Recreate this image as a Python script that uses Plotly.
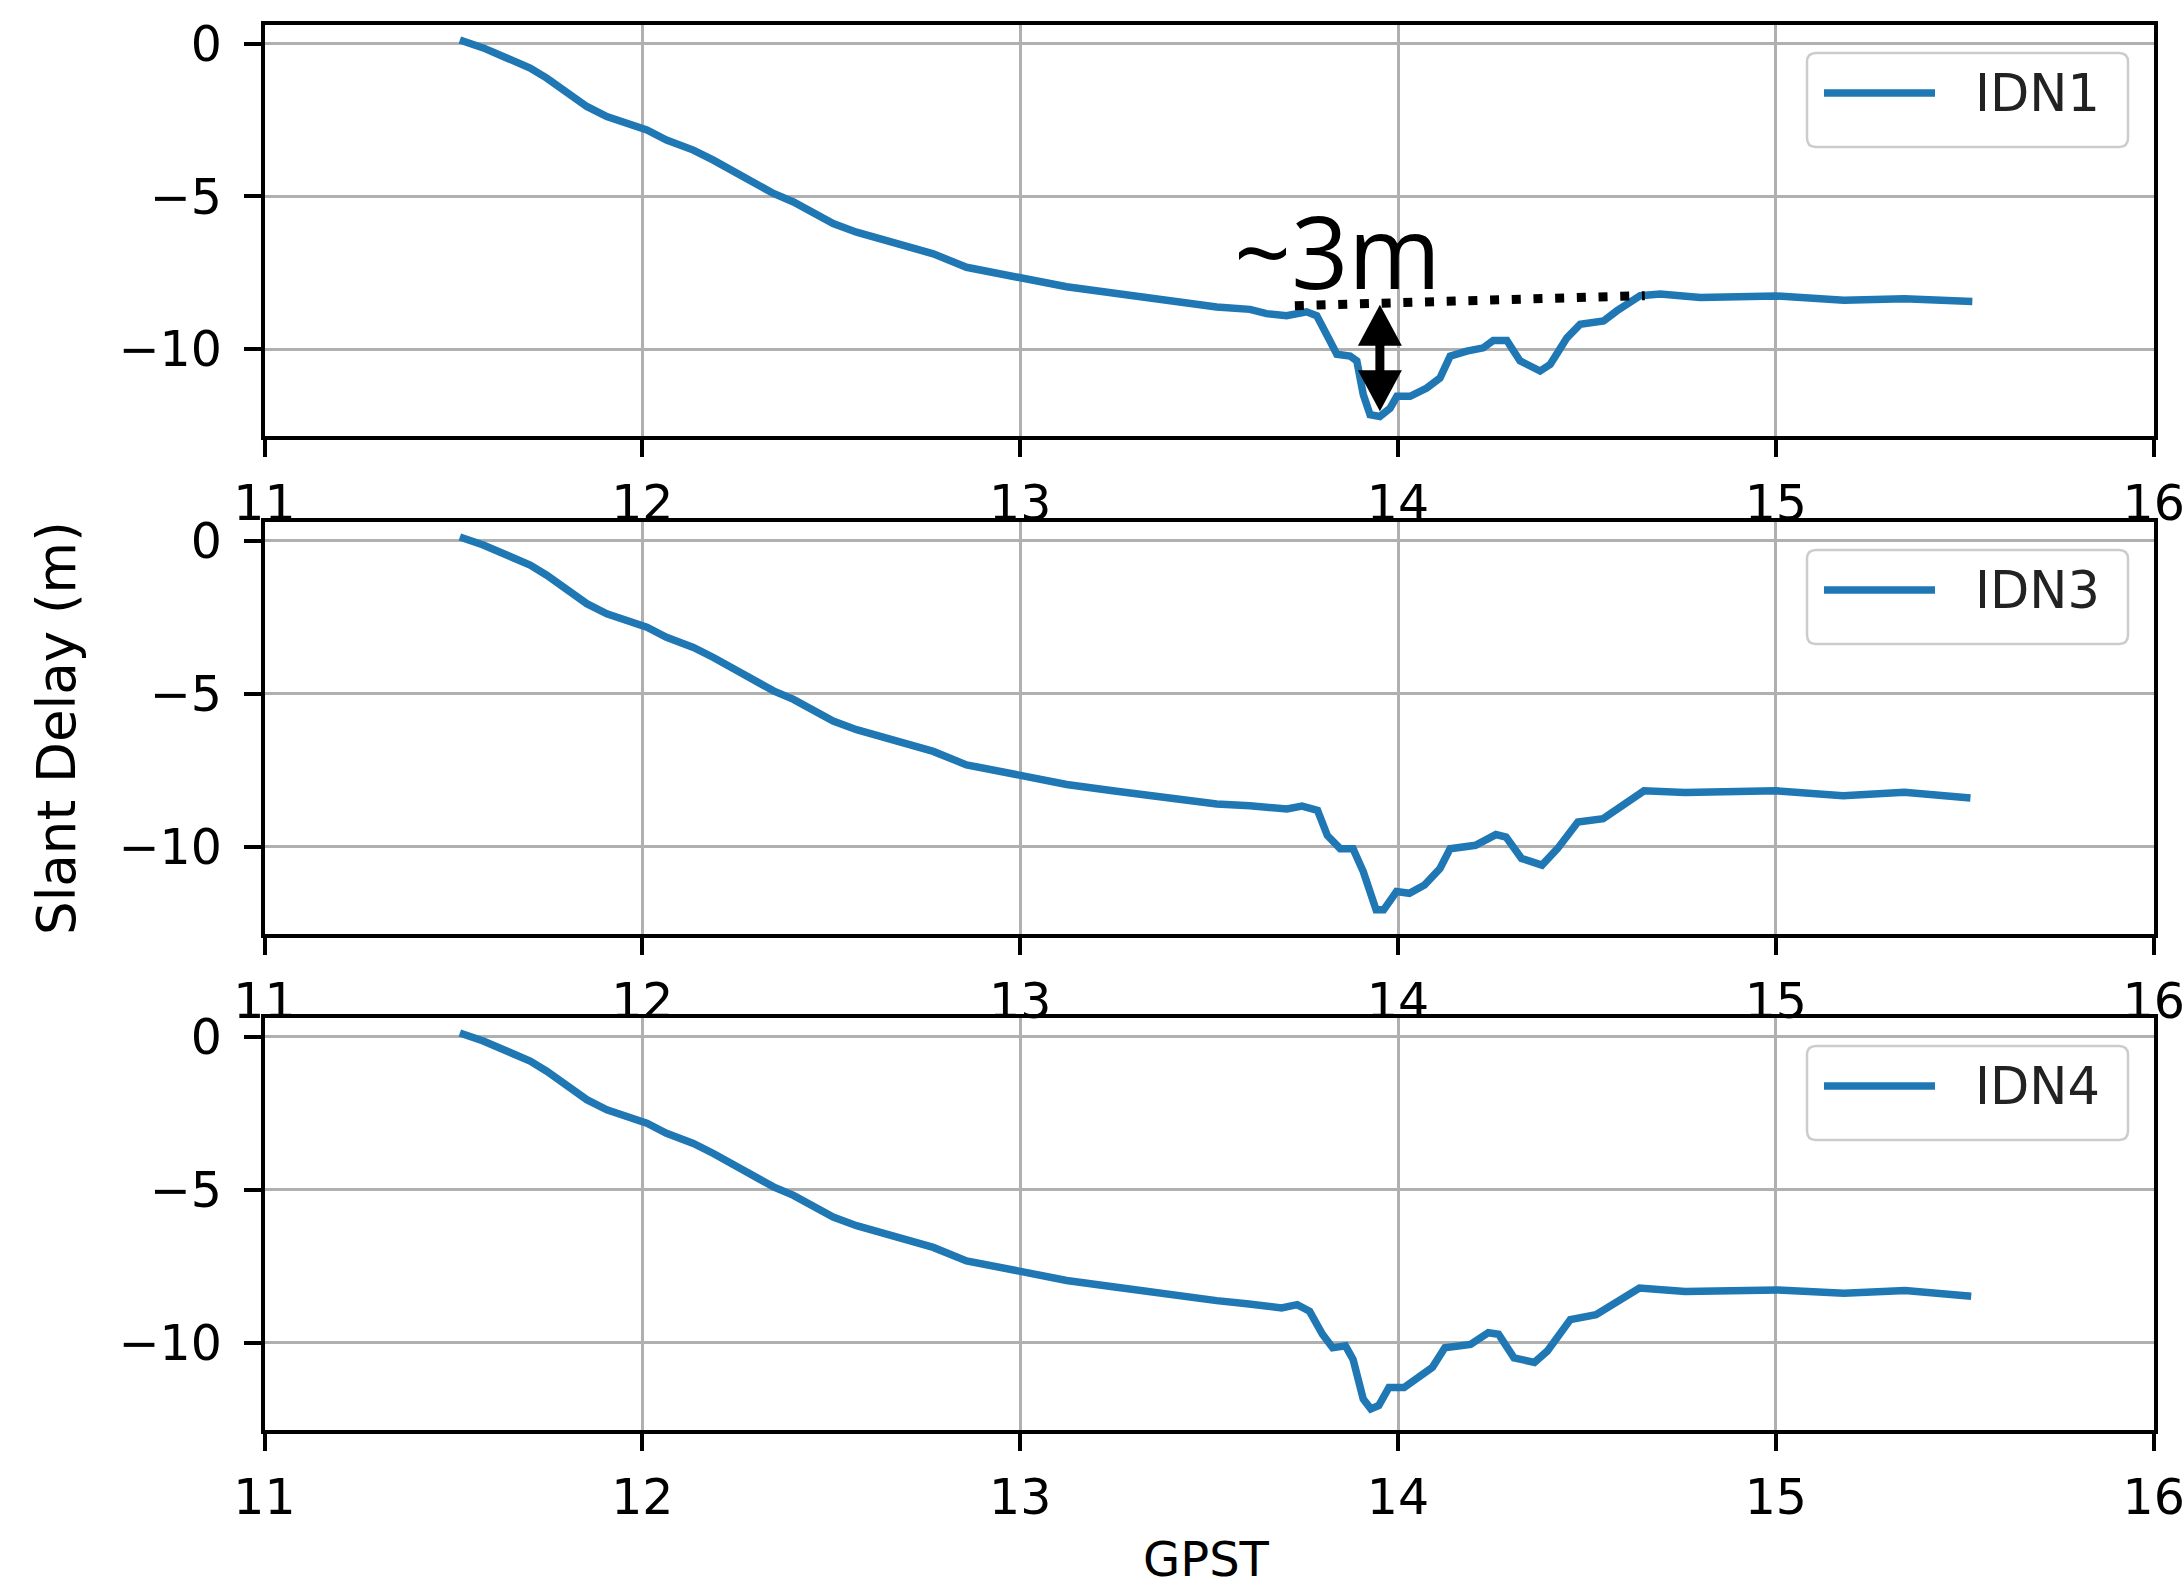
import plotly.graph_objects as go

# ---------------- data ----------------
t_idn1 = [11.517, 11.579, 11.641, 11.703, 11.747, 11.80, 11.853, 11.906, 11.959, 12.012,
          12.064, 12.135, 12.188, 12.241, 12.294, 12.347, 12.40, 12.452, 12.505, 12.567,
          12.629, 12.70, 12.77, 12.858, 13.0, 13.123, 13.255, 13.388, 13.52, 13.608,
          13.652, 13.705, 13.758, 13.785, 13.799, 13.82, 13.838, 13.873, 13.891, 13.908,
          13.926, 13.952, 13.979, 13.997, 14.032, 14.076, 14.111, 14.138, 14.182, 14.226,
          14.252, 14.288, 14.323, 14.376, 14.403, 14.447, 14.482, 14.544, 14.579, 14.641,
          14.694, 14.80, 15.0, 15.18, 15.34, 15.52]
d_idn1 = [0.13, -0.13, -0.46, -0.79, -1.12, -1.61, -2.05, -2.38, -2.6, -2.82,
          -3.15, -3.48, -3.81, -4.19, -4.57, -4.9, -5.18, -5.56, -5.89, -6.17,
          -6.39, -6.6, -6.88, -7.32, -7.67, -7.96, -8.18, -8.42, -8.62, -8.7,
          -8.84, -8.91, -8.78, -8.91, -9.3, -9.74, -10.17, -10.23, -10.39, -11.49,
          -12.15, -12.21, -11.94, -11.55, -11.55, -11.28, -10.95, -10.23, -10.07, -9.96,
          -9.72, -9.72, -10.39, -10.72, -10.5, -9.63, -9.19, -9.08, -8.75, -8.25,
          -8.2, -8.31, -8.26, -8.4, -8.35, -8.44]

t_idn3 = [11.517, 11.579, 11.641, 11.703, 11.747, 11.80, 11.853, 11.906, 11.959, 12.012,
          12.064, 12.135, 12.188, 12.241, 12.294, 12.347, 12.40, 12.452, 12.505, 12.567,
          12.629, 12.70, 12.77, 12.858, 13.0, 13.123, 13.255, 13.388, 13.52, 13.608,
          13.706, 13.746, 13.787, 13.813, 13.847, 13.881, 13.908, 13.942, 13.962, 13.996,
          14.03, 14.07, 14.111, 14.138, 14.205, 14.259, 14.286, 14.327, 14.381, 14.422,
          14.476, 14.543, 14.651, 14.759, 15.002, 15.178, 15.34, 15.515]
d_idn3 = [0.13, -0.13, -0.46, -0.79, -1.12, -1.61, -2.05, -2.38, -2.6, -2.82,
          -3.15, -3.48, -3.81, -4.19, -4.57, -4.9, -5.18, -5.56, -5.89, -6.17,
          -6.39, -6.6, -6.88, -7.32, -7.67, -7.96, -8.18, -8.42, -8.6, -8.66,
          -8.76, -8.67, -8.81, -9.63, -10.06, -10.06, -10.81, -12.06, -12.06, -11.46,
          -11.52, -11.25, -10.71, -10.06, -9.95, -9.6, -9.68, -10.38, -10.6, -10.06,
          -9.19, -9.08, -8.17, -8.22, -8.17, -8.33, -8.22, -8.40]

t_idn4 = [11.517, 11.579, 11.641, 11.703, 11.747, 11.80, 11.853, 11.906, 11.959, 12.012,
          12.064, 12.135, 12.188, 12.241, 12.294, 12.347, 12.40, 12.452, 12.505, 12.567,
          12.629, 12.70, 12.77, 12.858, 13.0, 13.123, 13.255, 13.388, 13.52, 13.60,
          13.692, 13.733, 13.766, 13.800, 13.827, 13.861, 13.881, 13.908, 13.928, 13.949,
          13.976, 14.016, 14.057, 14.091, 14.124, 14.192, 14.239, 14.266, 14.307, 14.361,
          14.395, 14.456, 14.524, 14.639, 14.76, 15.004, 15.18, 15.342, 15.517]
d_idn4 = [0.13, -0.13, -0.46, -0.79, -1.12, -1.61, -2.05, -2.38, -2.6, -2.82,
          -3.15, -3.48, -3.81, -4.19, -4.57, -4.9, -5.18, -5.56, -5.89, -6.17,
          -6.39, -6.6, -6.88, -7.32, -7.67, -7.96, -8.18, -8.42, -8.62, -8.72,
          -8.86, -8.75, -8.97, -9.72, -10.16, -10.1, -10.54, -11.84, -12.16, -12.05,
          -11.46, -11.46, -11.08, -10.8, -10.16, -10.05, -9.67, -9.72, -10.49, -10.64,
          -10.27, -9.24, -9.08, -8.21, -8.32, -8.27, -8.38, -8.29, -8.48]

stations = ["IDN1", "IDN3", "IDN4"]
series_t = [t_idn1, t_idn3, t_idn4]
series_d = [d_idn1, d_idn3, d_idn4]

x_ticks = [11, 12, 13, 14, 15, 16]
y_ticks = [0, -5, -10]
y_ticktext = ["0", "\u22125", "\u221210"]
x_title = "GPST"
y_title = "Slant Delay (m)"

# annotation in the first panel
ann_text = "~3m"
ann_text_x, ann_text_y = 13.84, -6.75
dotted_x = [13.727, 14.653]
dotted_y = [-8.58, -8.25]
arrow_x = 13.952
arrow_top, arrow_bottom = -8.55, -12.04

# ---------------- layout geometry (page pixels) ----------------
W, H = 2183, 1589
LEFT, RIGHT = 264.5, 2153.7
PANELS = [(25, 436), (522, 934), (1018, 1430)]  # top, bottom in px
BLUE = "#1f77b4"
TICKFONT = dict(family="DejaVu Sans", size=49, color="black")

fig = go.Figure()
layout = dict(width=W, height=H, margin=dict(l=0, r=0, t=0, b=0, autoexpand=False),
              paper_bgcolor="white", plot_bgcolor="white", showlegend=False)

shapes = []
annotations = []

for i, (name, t, d) in enumerate(zip(stations, series_t, series_d)):
    sfx = "" if i == 0 else str(i + 1)
    fig.add_trace(go.Scatter(x=t, y=d, mode="lines", name=name,
                             line=dict(color=BLUE, width=7.5),
                             xaxis="x" + sfx, yaxis="y" + sfx))
    top, bot = PANELS[i]
    common = dict(showline=True, mirror=True, linecolor="black", linewidth=3.5,
                  showgrid=True, gridcolor="#b0b0b0", gridwidth=3,
                  ticks="outside", ticklen=17, tickwidth=3.5, tickcolor="black",
                  tickfont=TICKFONT, zeroline=False, automargin=False,
                  ticklabeloverflow="allow")
    layout["xaxis" + sfx] = dict(common, domain=[LEFT / W, RIGHT / W], range=[11, 16],
                                 tickvals=x_ticks, anchor="y" + sfx, ticklabelstandoff=4)
    layout["yaxis" + sfx] = dict(common, domain=[1 - bot / H, 1 - top / H],
                                 range=[-12.85, 0.62], tickvals=y_ticks,
                                 ticktext=y_ticktext, anchor="x" + sfx,
                                 ticklabelstandoff=12)

    # legend drawn as box + line sample + text (matplotlib style)
    bx0, bx1 = 1807, 2128
    by0, by1 = top + 28, top + 122
    r = 9
    path = (f"M{bx0 + r},{-by0} L{bx1 - r},{-by0} Q{bx1},{-by0} {bx1},{-by0 - r} "
            f"L{bx1},{-by1 + r} Q{bx1},{-by1} {bx1 - r},{-by1} "
            f"L{bx0 + r},{-by1} Q{bx0},{-by1} {bx0},{-by1 + r} "
            f"L{bx0},{-by0 - r} Q{bx0},{-by0} {bx0 + r},{-by0} Z")
    shapes.append(dict(type="path", xref="paper", yref="paper",
                       xsizemode="pixel", ysizemode="pixel", xanchor=0, yanchor=1,
                       path=path, line=dict(color="#cccccc", width=2.5),
                       fillcolor="rgba(255,255,255,0.8)", layer="above"))
    ly = top + 68
    shapes.append(dict(type="line", xref="paper", yref="paper",
                       x0=1824 / W, x1=1935 / W, y0=1 - ly / H, y1=1 - ly / H,
                       line=dict(color=BLUE, width=7.5), layer="above"))
    annotations.append(dict(text=name, xref="paper", yref="paper",
                            x=1973 / W, y=1 - ly / H, xanchor="left", yanchor="middle",
                            showarrow=False,
                            font=dict(family="DejaVu Sans", size=51, color="#222222")))

# "~3m" annotation: dotted reference line and double-headed arrow
shapes.append(dict(type="line", xref="x", yref="y",
                   x0=dotted_x[0], x1=dotted_x[1], y0=dotted_y[0], y1=dotted_y[1],
                   line=dict(color="black", width=9, dash="9px,12.7px"), layer="above"))
shapes.append(dict(type="line", xref="x", yref="y",
                   x0=arrow_x, x1=arrow_x, y0=arrow_top - 1.0, y1=arrow_bottom + 1.0,
                   line=dict(color="black", width=9), layer="above"))
shapes.append(dict(type="path", xref="x", yref="y", xsizemode="pixel", ysizemode="pixel",
                   xanchor=arrow_x, yanchor=arrow_top,
                   path="M0,0 L-22,-41 L22,-41 Z", fillcolor="black",
                   line=dict(color="black", width=0), layer="above"))
shapes.append(dict(type="path", xref="x", yref="y", xsizemode="pixel", ysizemode="pixel",
                   xanchor=arrow_x, yanchor=arrow_bottom,
                   path="M0,0 L-22,41 L22,41 Z", fillcolor="black",
                   line=dict(color="black", width=0), layer="above"))
annotations.append(dict(text=ann_text, xref="x", yref="y", x=ann_text_x, y=ann_text_y,
                        xanchor="center", yanchor="middle", showarrow=False,
                        font=dict(family="Open Sans", size=100, color="black")))

# axis titles
annotations.append(dict(text=y_title, xref="paper", yref="paper", x=56 / W, y=1 - 728 / H,
                        xanchor="center", yanchor="middle", textangle=-90, showarrow=False,
                        font=dict(family="DejaVu Sans", size=53, color="black")))
annotations.append(dict(text=x_title, xref="paper", yref="paper", x=1206 / W, y=1 - 1588 / H,
                        xanchor="center", yanchor="bottom", showarrow=False, borderpad=0,
                        font=dict(family="DejaVu Sans", size=48, color="black")))

layout["shapes"] = shapes
layout["annotations"] = annotations
fig.update_layout(**layout)
fig.write_html("out.html")
